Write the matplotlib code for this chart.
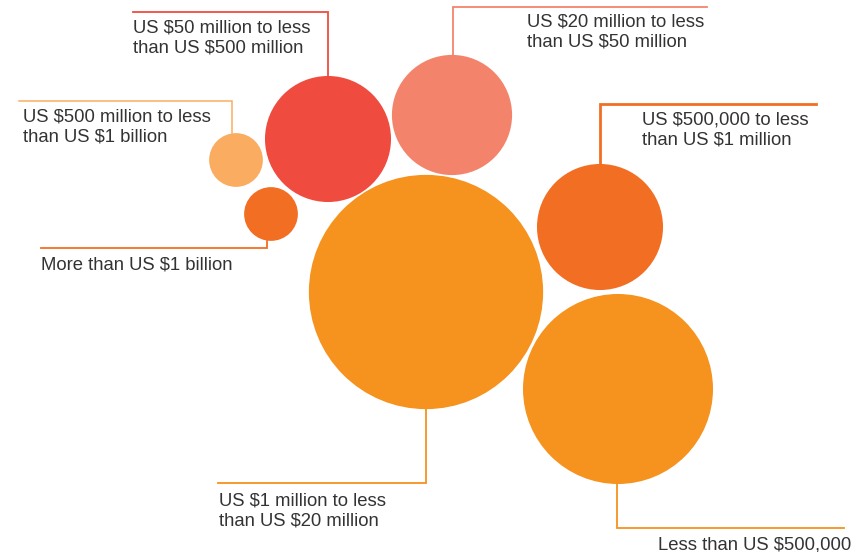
import matplotlib
matplotlib.use('Agg')
import numpy as np
import matplotlib.pyplot as plt
from matplotlib.patches import Circle

# Доли компаний по размеру выручки (в %), площадь круга пропорциональна доле
labels = [
    'US $1 million to less\nthan US $20 million',
    'Less than US $500,000',
    'US $500,000 to less\nthan US $1 million',
    'US $50 million to less\nthan US $500 million',
    'US $20 million to less\nthan US $50 million',
    'US $500 million to less\nthan US $1 billion',
    'More than US $1 billion',
]
shares = [38, 25, 11, 11, 10, 2, 2]

# Раскладка (в пикселях картинки): центры кругов
cx = [426, 618, 600, 328, 452, 236, 271]
cy = [292, 389, 227, 139, 115, 160, 214]
# Выноски: x вертикального отрезка, y горизонтального, конец горизонтали
lead_x = [426, 617, 600, 328, 453, 232, 267]
lead_y = [483, 528, 104, 12, 7, 101, 248]
lead_end = [218, 844, 816, 133, 707, 19, 41]
# Положение подписи (левый край, центр по вертикали)
tx = [219, 658, 642, 133, 527, 23, 41]
ty = [511, 545, 130, 38, 32, 127, 265]

colors = ['#F6921E', '#F6921E', '#F26E22', '#EF4C3F', '#F4836C', '#FAAD61', '#F26E22']
line_w = [1.3, 1.3, 2.0, 1.3, 1.3, 1.1, 1.3]

scale = 19.0  # пикселей радиуса на sqrt(процента)

fig = plt.figure(figsize=(8.68, 5.52), dpi=100)
ax = fig.add_axes([0, 0, 1, 1])
ax.set_xlim(0, 868)
ax.set_ylim(552, 0)
ax.set_aspect('equal')
ax.axis('off')

for i in range(len(labels)):
    r = scale * np.sqrt(shares[i])
    ax.add_patch(Circle((cx[i], cy[i]), r, color=colors[i], lw=0, zorder=2))
    # край круга, от которого идёт выноска
    if lead_y[i] < cy[i]:
        y0 = cy[i] - np.sqrt(max(r**2 - (lead_x[i] - cx[i])**2, 0))
    else:
        y0 = cy[i] + np.sqrt(max(r**2 - (lead_x[i] - cx[i])**2, 0))
    ax.plot([lead_x[i], lead_x[i], lead_end[i]], [y0, lead_y[i], lead_y[i]],
            color=colors[i], lw=line_w[i], zorder=1, solid_joinstyle='miter')
    ax.text(tx[i], ty[i], labels[i], ha='left', va='center', fontsize=13.3,
            family='Liberation Sans', color='#333333', linespacing=1.26)

fig.savefig('out.png', dpi=100)
